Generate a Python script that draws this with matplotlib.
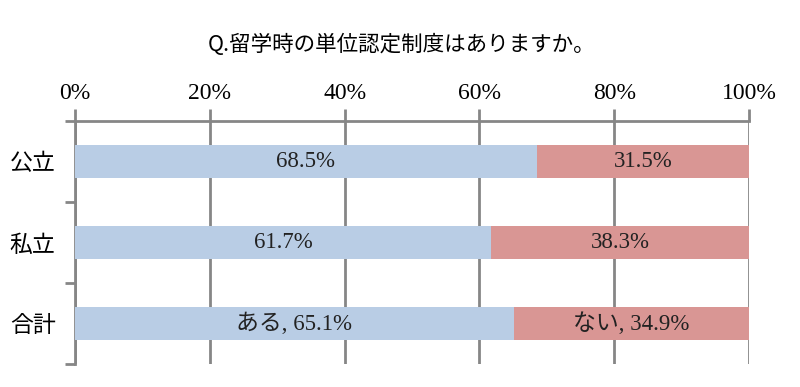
import matplotlib

matplotlib.use("Agg")
import matplotlib.pyplot as plt

plt.rcParams["font.family"] = ["Noto Sans CJK JP", "DejaVu Sans"]

TITLE = "Q.留学時の単位認定制度はありますか。"
categories = ["公立", "私立", "合計"]
aru = [68.5, 61.7, 65.1]
nai = [31.5, 38.3, 34.9]
aru_labels = ["68.5%", "61.7%", "ある, 65.1%"]
nai_labels = ["31.5%", "38.3%", "ない, 34.9%"]
xticks = [0, 20, 40, 60, 80, 100]

BLUE = "#b9cde5"
RED = "#d99694"
GRID = "#868686"
SERIF = ["Liberation Serif", "Noto Sans CJK JP"]

fig = plt.figure(figsize=(8, 3.87), dpi=100)
ax = fig.add_axes([75 / 800, 1 - 364 / 387, 674 / 800, 243 / 387])

ys = list(range(len(categories)))
ax.barh(ys, aru, height=0.4, color=BLUE, zorder=3)
ax.barh(ys, nai, left=aru, height=0.4, color=RED, zorder=3)

for y, a, n, la, ln in zip(ys, aru, nai, aru_labels, nai_labels):
    ax.text(a / 2, y, la, ha="center", va="center", fontsize=16.5,
            family=SERIF, color="#222222", zorder=4)
    ax.text(a + n / 2, y, ln, ha="center", va="center", fontsize=16.5,
            family=SERIF, color="#222222", zorder=4)

ax.set_xlim(0, 100)
ax.set_ylim(len(categories) - 0.5, -0.5)
ax.set_xticks(xticks)
ax.set_xticklabels([f"{t}%" for t in xticks], family=SERIF, fontsize=17)
ax.xaxis.tick_top()
ax.tick_params(axis="x", direction="out", length=9, width=2, color=GRID, pad=3)
ax.xaxis.grid(True, color=GRID, lw=2, zorder=1)

ax.set_yticks(ys)
ax.set_yticklabels(categories, fontsize=16.5)
ax.tick_params(axis="y", length=0, pad=14)
ax.set_yticks([-0.5, 0.5, 1.5, 2.5], minor=True)
ax.tick_params(axis="y", which="minor", direction="out", length=7, width=2, color=GRID)

for side in ("right", "bottom"):
    ax.spines[side].set_visible(False)
for side in ("top", "left"):
    ax.spines[side].set_color(GRID)
    ax.spines[side].set_linewidth(2)

fig.text(402 / 800, 1 - 45 / 387, TITLE, ha="center", va="center", fontsize=15.5)

fig.savefig("out.png", dpi=100)
